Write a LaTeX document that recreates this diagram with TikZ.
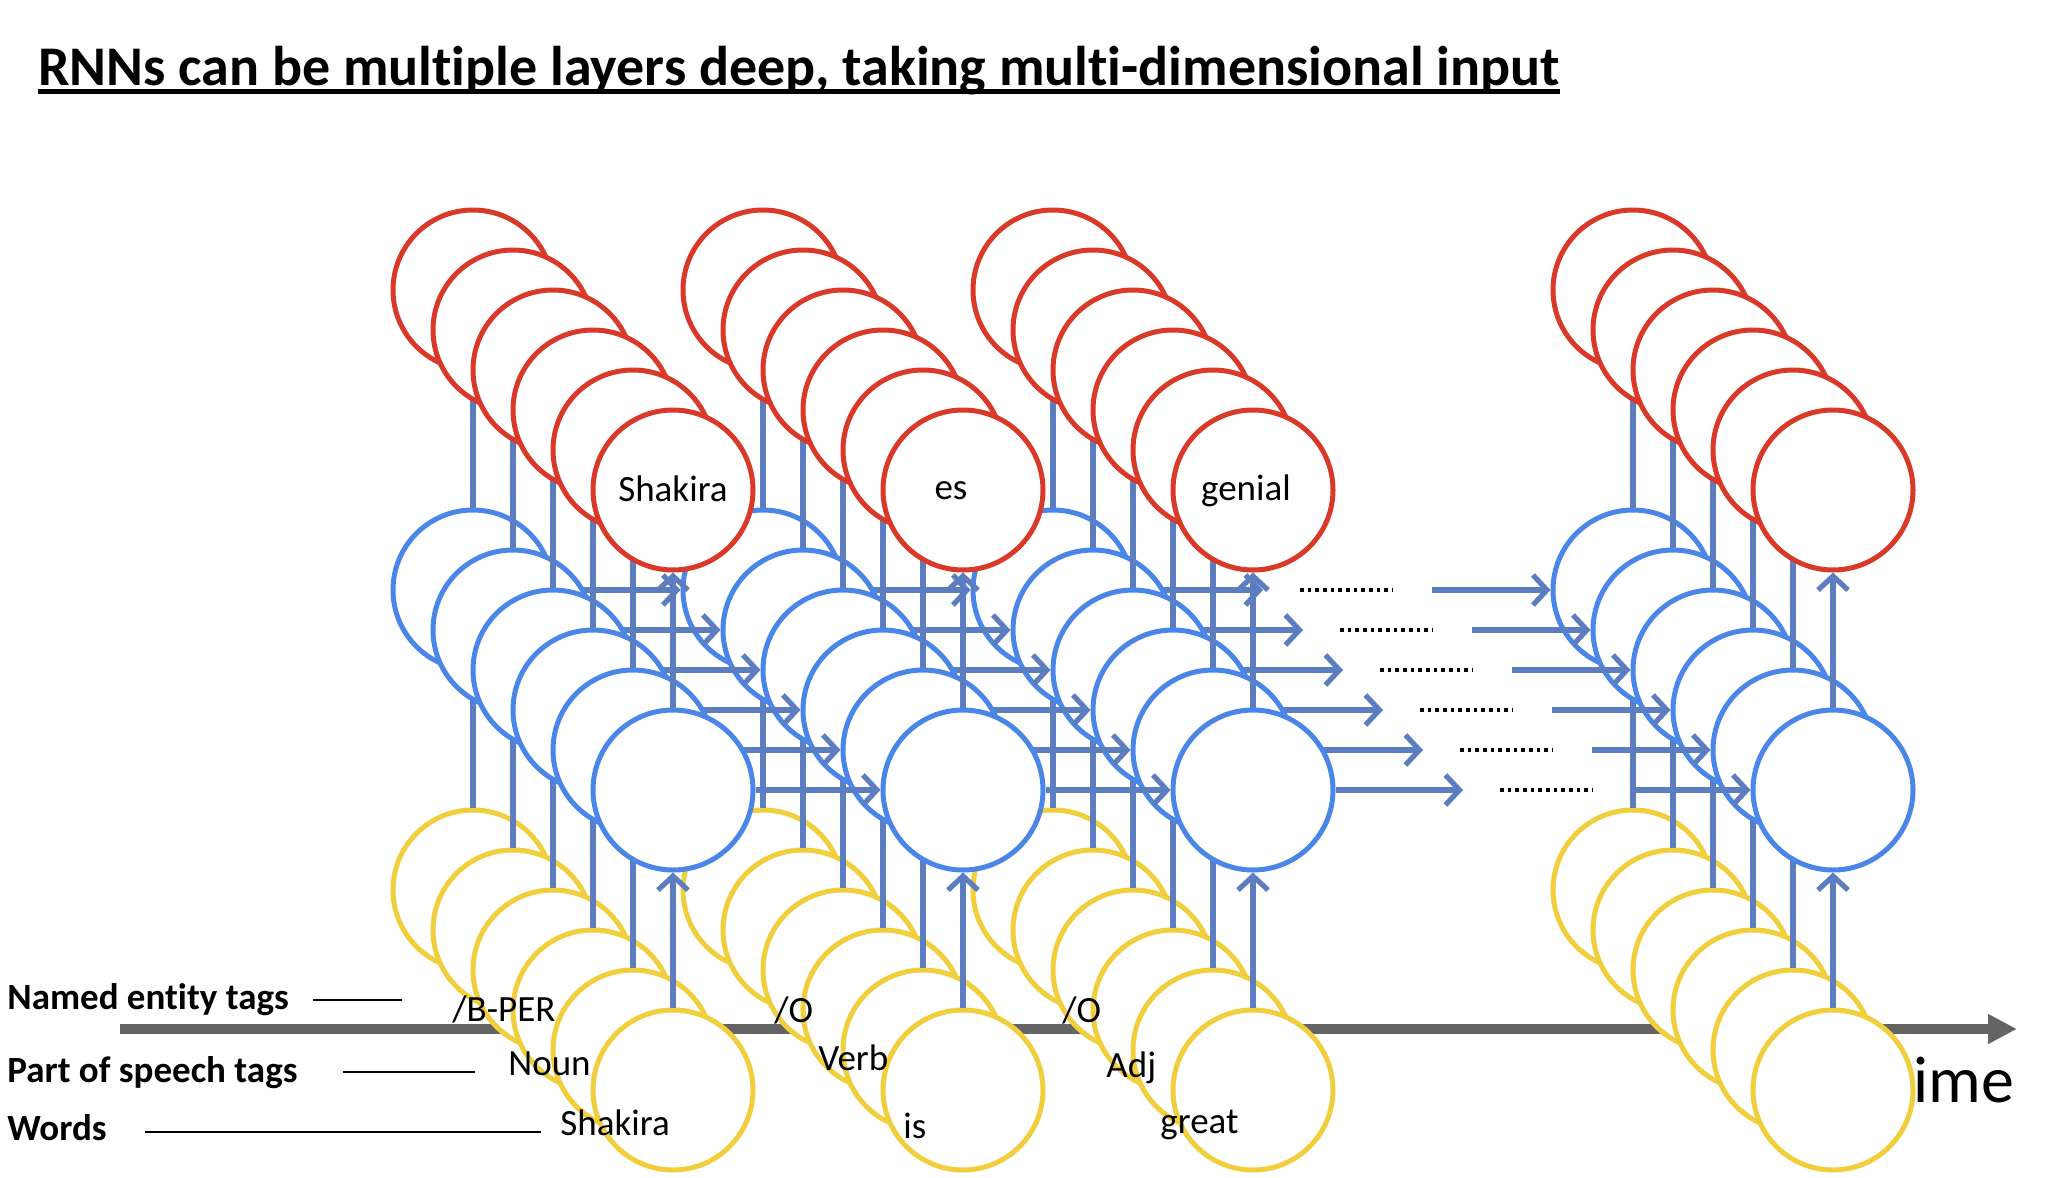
\documentclass[tikz,border=0pt]{standalone}
\usepackage{fontspec}
\setmainfont{Carlito}[Ligatures=NoCommon]
\usetikzlibrary{arrows.meta}
\definecolor{cred}{RGB}{217,57,40}
\definecolor{cblue}{RGB}{74,134,232}
\definecolor{cyel}{RGB}{240,206,60}
\definecolor{carrow}{RGB}{92,126,192}
\definecolor{caxis}{RGB}{100,100,100}
\begin{document}
\begin{tikzpicture}[x=0.5pt,y=-0.5pt,
  cell/.style={circle,draw,fill=white,line width=2.5pt,minimum size=80pt,inner sep=0pt},
  redcell/.style={cell,draw=cred},
  bluecell/.style={cell,draw=cblue},
  yelcell/.style={cell,draw=cyel},
  flow/.style={draw=carrow,line width=2.6pt,-{Straight Barb[length=7pt,width=15pt]}},
  ellip/.style={draw=black,line width=1.8pt,dash pattern=on 1.8pt off 2.03pt},
  lbl/.style={font=\fontsize{18.5pt}{22pt}\selectfont,inner sep=0pt,anchor=base west},
  side/.style={lbl,font=\fontsize{18.5pt}{22pt}\selectfont\bfseries},
  inlbl/.style={font=\fontsize{18.5pt}{22pt}\selectfont,inner sep=0pt,anchor=base},
  guide/.style={draw=black,line width=1pt},
]
\useasboundingbox (0,0) rectangle (2068,1178);
\fill[white] (0,0) rectangle (2068,1178);

% title
\node[anchor=base west,inner sep=0pt,font=\fontsize{28pt}{34pt}\selectfont\bfseries] (title) at (38,85) {RNNs can be multiple layers deep, taking multi-dimensional input};
\draw[line width=2.5pt] ([yshift=-3pt]title.base west) -- ([yshift=-3pt]title.base east);

% time axis
\coordinate (axs) at (120,1029);
\coordinate (axe) at (2017,1029);
\draw[caxis,line width=5pt,-{Triangle[length=14.5pt,width=14pt]}] (axs) -- (axe);
\node[anchor=base west,inner sep=0pt,font=\fontsize{33pt}{40pt}\selectfont] (time) at (1891,1102) {time};

% cells and connections, back to front
\foreach \idx in {0,...,5} {
  \pgfmathsetmacro\shiftv{40*(5-\idx)}
  \foreach \colid/\X in {1/673,2/963,3/1253,4/1833} {
    \node[yelcell] (y-\colid-\idx) at (\X-\shiftv,1090-\shiftv) {};
    \node[bluecell] (b-\colid-\idx) at (\X-\shiftv,790-\shiftv) {};
    \node[redcell] (r-\colid-\idx) at (\X-\shiftv,490-\shiftv) {};
  }
  \foreach \colid in {1,...,4} {
    \draw[flow] (y-\colid-\idx) -- (b-\colid-\idx);
    \draw[flow] (b-\colid-\idx) -- (r-\colid-\idx);
  }
  \draw[flow] (b-1-\idx) -- (b-2-\idx);
  \draw[flow] (b-2-\idx) -- (b-3-\idx);
  \coordinate (ho-\idx) at (1463-\shiftv,790-\shiftv);
  \draw[flow] (b-3-\idx) -- (ho-\idx);
  \coordinate (ds-\idx) at (1500-\shiftv,790-\shiftv);
  \coordinate (de-\idx) at (1592-\shiftv,790-\shiftv);
  \draw[ellip] (ds-\idx) -- (de-\idx);
  \coordinate (hi-\idx) at (1632-\shiftv,790-\shiftv);
  \draw[flow] (hi-\idx) -- (b-4-\idx);
}

% output words
\node[inlbl] (o1) at (673,501) {Shakira};
\node[inlbl] (o2) at (951,499) {es};
\node[inlbl] (o3) at (1246,500) {genial};

% side labels
\node[side] (net) at (7,1009) {Named entity tags};
\coordinate (net1) at (313,1000); \coordinate (net2) at (402,1000);
\draw[guide] (net1) -- (net2);
\node[side] (pos) at (7,1082) {Part of speech tags};
\coordinate (pos1) at (343,1072); \coordinate (pos2) at (475,1072);
\draw[guide] (pos1) -- (pos2);
\node[side] (wrd) at (7,1140) {Words};
\coordinate (wrd1) at (145,1132); \coordinate (wrd2) at (541,1132);
\draw[guide] (wrd1) -- (wrd2);

% input labels
\node[lbl] (t1) at (452,1021) {/B-PER};
\node[lbl] (p1) at (508,1075) {Noun};
\node[lbl] (w1) at (560,1135) {Shakira};
\node[lbl] (t2) at (774,1022) {/O};
\node[lbl] (p2) at (818,1070) {Verb};
\node[lbl] (w2) at (903,1138) {is};
\node[lbl] (t3) at (1062,1022) {/O};
\node[lbl] (p3) at (1106,1077) {Adj};
\node[lbl] (w3) at (1160,1133) {great};
\end{tikzpicture}
\end{document}
